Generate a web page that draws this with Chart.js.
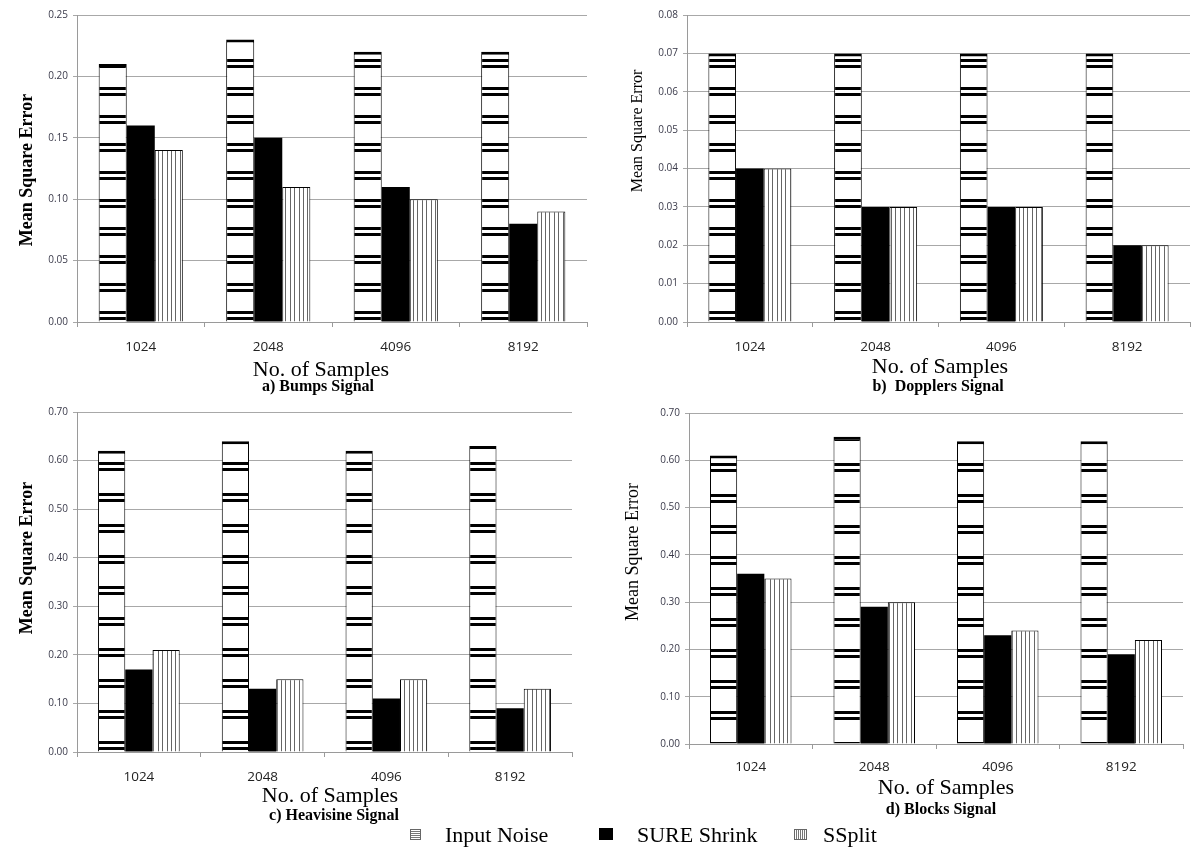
<!DOCTYPE html>
<html>
<head>
<meta charset="utf-8">
<script src="https://cdn.jsdelivr.net/npm/chart.js@4.4.1/dist/chart.umd.min.js"></script>
<style>
  body { margin: 0; background: #fff; width: 1200px; height: 848px; position: relative; overflow: hidden; font-family: "Liberation Serif", serif; }
  canvas { position: absolute; }
  .t { position: absolute; white-space: nowrap; line-height: 1; color: #000; transform: translate(-50%, -50%); }
  .yt { transform: translate(-50%, -50%) rotate(-90deg); }
  .lg { position: absolute; white-space: nowrap; line-height: 1; font-size: 22px; transform: translateY(-50%); }
  .ico { position: absolute; box-sizing: border-box; }
</style>
</head>
<body>
<canvas id="bumpsChart" width="578" height="359"></canvas>
<canvas id="dopplersChart" width="571" height="359"></canvas>
<canvas id="heavisineChart" width="563" height="392"></canvas>
<canvas id="blocksChart" width="562" height="383"></canvas>

<!-- axis titles and captions -->
<div class="t yt" style="left:26px;top:170px;font-size:18px;font-weight:bold;">Mean Square Error</div>
<div class="t yt" style="left:637px;top:131px;font-size:16px;">Mean Square Error</div>
<div class="t yt" style="left:26px;top:558px;font-size:18px;font-weight:bold;">Mean Square Error</div>
<div class="t yt" style="left:632px;top:552px;font-size:18px;">Mean Square Error</div>

<div class="t" style="left:321px;top:369px;font-size:22px;">No. of Samples</div>
<div class="t" style="left:318px;top:386px;font-size:16px;font-weight:bold;">a) Bumps Signal</div>
<div class="t" style="left:940px;top:366px;font-size:22px;">No. of Samples</div>
<div class="t" style="left:938px;top:386px;font-size:16px;font-weight:bold;">b)&nbsp; Dopplers Signal</div>
<div class="t" style="left:330px;top:795px;font-size:22px;">No. of Samples</div>
<div class="t" style="left:334px;top:815px;font-size:16px;font-weight:bold;">c) Heavisine Signal</div>
<div class="t" style="left:946px;top:787px;font-size:22px;">No. of Samples</div>
<div class="t" style="left:941px;top:809px;font-size:16px;font-weight:bold;">d) Blocks Signal</div>

<!-- shared legend -->
<div class="ico" style="left:410px;top:829px;width:11px;height:11px;border:1px solid #666;background:repeating-linear-gradient(to bottom,#fff 0 1px,#777 1px 2px);"></div>
<div class="lg" style="left:445px;top:835px;">Input Noise</div>
<div class="ico" style="left:599px;top:828px;width:14px;height:12px;background:#000;"></div>
<div class="lg" style="left:637px;top:835px;">SURE Shrink</div>
<div class="ico" style="left:794px;top:829px;width:13px;height:11px;border:1px solid #666;background:repeating-linear-gradient(to right,#fff 0 1px,#777 1px 2px);"></div>
<div class="lg" style="left:823px;top:835px;">SSplit</div>

<script>
// data
const samples = ["1024", "2048", "4096", "8192"];

const bumpsNoise = [0.21, 0.23, 0.22, 0.22];
const bumpsSure = [0.16, 0.15, 0.11, 0.08];
const bumpsSsplit = [0.14, 0.11, 0.10, 0.09];
const bumpsTicks = [0, 0.05, 0.10, 0.15, 0.20, 0.25];

const dopplersNoise = [0.07, 0.07, 0.07, 0.07];
const dopplersSure = [0.04, 0.03, 0.03, 0.02];
const dopplersSsplit = [0.04, 0.03, 0.03, 0.02];
const dopplersTicks = [0, 0.01, 0.02, 0.03, 0.04, 0.05, 0.06, 0.07, 0.08];

const heavisineNoise = [0.62, 0.64, 0.62, 0.63];
const heavisineSure = [0.17, 0.13, 0.11, 0.09];
const heavisineSsplit = [0.21, 0.15, 0.15, 0.13];
const heavisineTicks = [0, 0.10, 0.20, 0.30, 0.40, 0.50, 0.60, 0.70];

const blocksNoise = [0.61, 0.65, 0.64, 0.64];
const blocksSure = [0.36, 0.29, 0.23, 0.19];
const blocksSsplit = [0.35, 0.30, 0.24, 0.22];
const blocksTicks = [0, 0.10, 0.20, 0.30, 0.40, 0.50, 0.60, 0.70];

// fill patterns (horizontal double stripes / thin vertical lines)
function stripePattern(period) {
  const c = document.createElement("canvas");
  c.width = 4;
  c.height = period;
  const g = c.getContext("2d");
  g.fillStyle = "#fff";
  g.fillRect(0, 0, 4, period);
  g.fillStyle = "#000";
  g.fillRect(0, 0, 4, 3);
  g.fillRect(0, 6, 4, 3);
  return g.createPattern(c, "repeat");
}

function vlinePattern() {
  const c = document.createElement("canvas");
  c.width = 22;
  c.height = 4;
  const g = c.getContext("2d");
  g.fillStyle = "#fff";
  g.fillRect(0, 0, 22, 4);
  g.fillStyle = "#666";
  [0, 4, 9, 13, 18].forEach((x) => g.fillRect(x, 0, 1, 4));
  return g.createPattern(c, "repeat");
}

// box = plot area in page pixels
function makePanel(id, box, noise, sure, ssplit, tickVals, period, labelPad) {
  const yW = 60, padTop = 12, padRight = 8;
  const el = document.getElementById(id);
  el.style.left = box.l - yW + "px";
  el.style.top = box.t - padTop + "px";
  const xH = el.height - padTop - (box.b - box.t);

  return new Chart(el.getContext("2d"), {
    type: "bar",
    data: {
      labels: samples,
      datasets: [
        {
          label: "Input Noise",
          data: noise,
          backgroundColor: stripePattern(period),
          borderColor: "#000",
          borderWidth: { top: 3, left: 1, right: 1, bottom: 0 },
          borderSkipped: "start",
        },
        {
          label: "SURE Shrink",
          data: sure,
          backgroundColor: "#000",
          borderWidth: 0,
        },
        {
          label: "SSplit",
          data: ssplit,
          backgroundColor: vlinePattern(),
          borderColor: "#000",
          borderWidth: 1,
          borderSkipped: "start",
        },
      ],
    },
    options: {
      responsive: false,
      animation: false,
      layout: { padding: { top: padTop, right: padRight, left: 0, bottom: 0 } },
      datasets: { bar: { barPercentage: 1.0, categoryPercentage: 0.66 } },
      scales: {
        x: {
          grid: { offset: true, drawOnChartArea: false, tickLength: 5, color: "#9a9a9a" },
          border: { color: "#9a9a9a" },
          ticks: { font: { family: "Open Sans", size: 13.5 }, color: "#222", padding: labelPad },
          afterFit: (s) => { s.height = xH; },
        },
        y: {
          min: 0,
          max: tickVals[tickVals.length - 1],
          grid: { color: "#a8a8a8", tickLength: 4 },
          border: { color: "#9a9a9a" },
          ticks: {
            font: { family: "Open Sans", size: 10 },
            color: "#3a3a4a",
            padding: 5,
            callback: (v) => Number(v).toFixed(2),
          },
          afterBuildTicks: (s) => { s.ticks = tickVals.map((v) => ({ value: v })); },
          afterFit: (s) => { s.width = yW; },
        },
      },
      plugins: {
        legend: { display: false },
        tooltip: { enabled: false },
        title: { display: false },
      },
    },
  });
}

makePanel("bumpsChart", { l: 77, r: 587, t: 15, b: 322 }, bumpsNoise, bumpsSure, bumpsSsplit, bumpsTicks, 28, 12);
makePanel("dopplersChart", { l: 687, r: 1190, t: 15, b: 322 }, dopplersNoise, dopplersSure, dopplersSsplit, dopplersTicks, 28, 12);
makePanel("heavisineChart", { l: 77, r: 572, t: 412, b: 752 }, heavisineNoise, heavisineSure, heavisineSsplit, heavisineTicks, 31, 12);
makePanel("blocksChart", { l: 689, r: 1183, t: 413, b: 744 }, blocksNoise, blocksSure, blocksSsplit, blocksTicks, 31, 10);
</script>
</body>
</html>
